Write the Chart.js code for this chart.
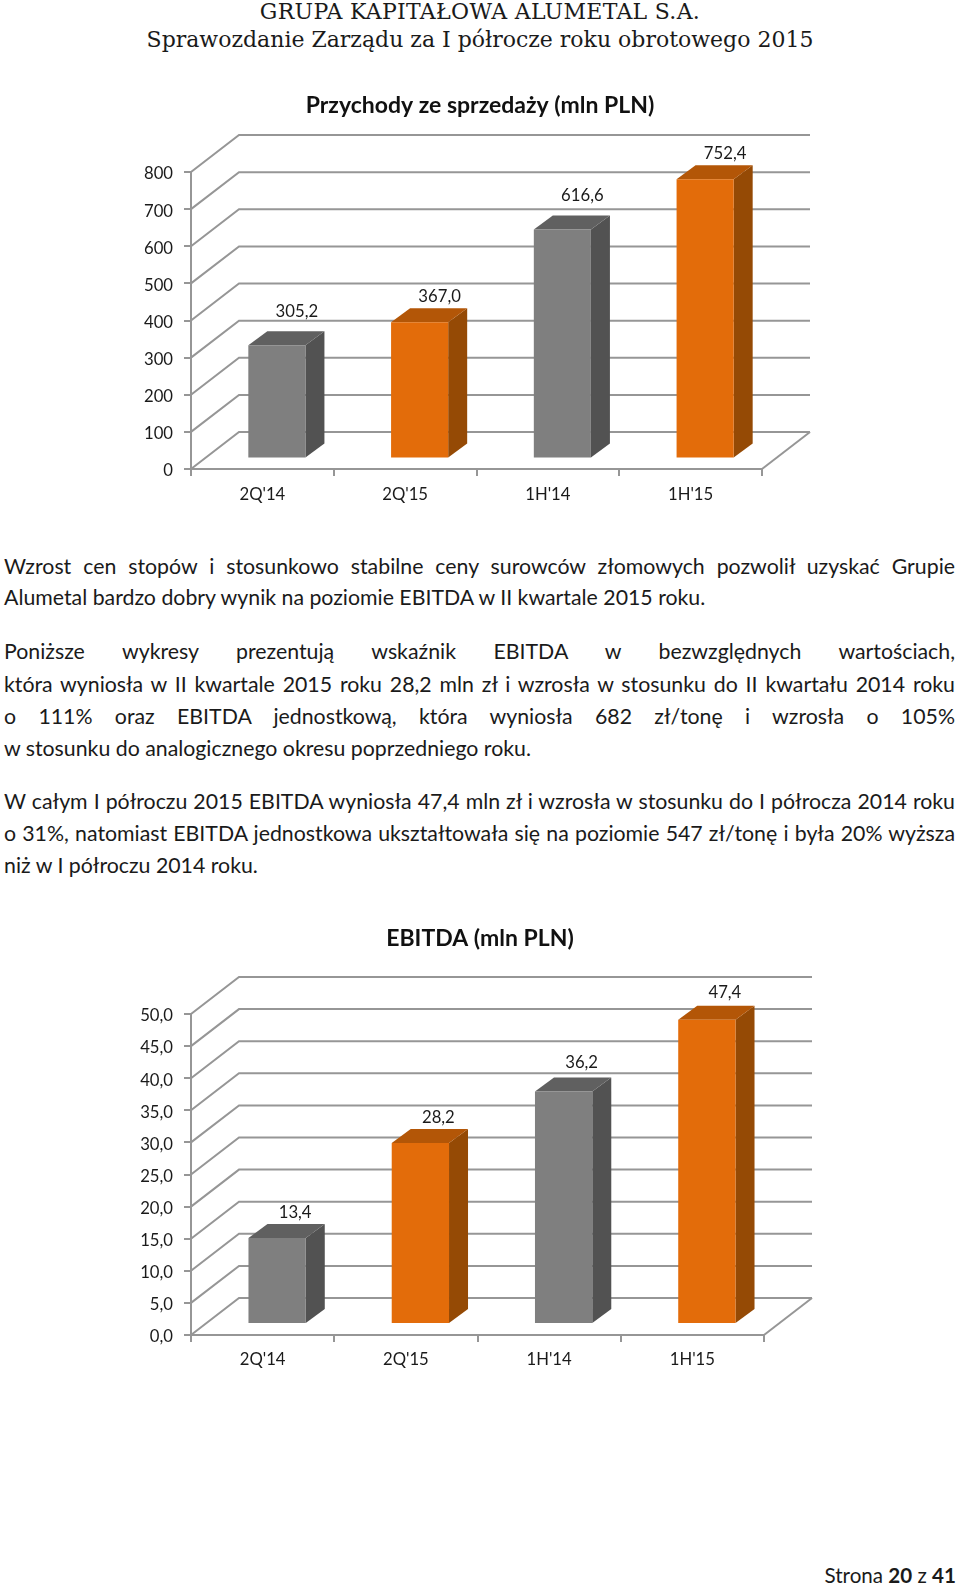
<!DOCTYPE html>
<html lang="pl">
<head>
<meta charset="utf-8">
<title>Sprawozdanie Zarządu</title>
<script src="https://cdn.jsdelivr.net/npm/chart.js@4"></script>
<style>
  html, body { margin: 0; padding: 0; background: #fff; width: 960px; height: 1585px; overflow: hidden; }
  canvas { position: absolute; left: 0; }
  .head { position: absolute; left: 0; width: 960px; text-align: center; font: 22px/28px "DejaVu Serif", serif; color: #1a1a1a; white-space: nowrap; }
  .line { position: absolute; left: 4px; width: 951px; font: 21.3px/30px Lato, sans-serif; color: #1a1a1a; white-space: nowrap; }
  .just { text-align: justify; text-align-last: justify; white-space: normal; }
  .foot { position: absolute; right: 4px; top: 1560px; font: 20.6px/30px Lato, sans-serif; color: #1a1a1a; }
</style>
</head>
<body>
<div class="head" style="top:-2px;letter-spacing:0.3px">GRUPA KAPITAŁOWA ALUMETAL S.A.</div>
<div class="head" style="top:26px">Sprawozdanie Zarządu za I półrocze roku obrotowego 2015</div>

<canvas id="revenue-chart" width="960" height="470" style="top:75px"></canvas>

<div class="line just" style="top:551px">Wzrost cen stopów i stosunkowo stabilne ceny surowców złomowych pozwolił uzyskać Grupie</div>
<div class="line" style="top:582px">Alumetal bardzo dobry wynik na poziomie EBITDA w II kwartale 2015 roku.</div>
<div class="line just" style="top:636px">Poniższe wykresy prezentują wskaźnik EBITDA w bezwzględnych wartościach,</div>
<div class="line just" style="top:669px">która wyniosła w II kwartale 2015 roku 28,2 mln zł i wzrosła w stosunku do II kwartału 2014 roku</div>
<div class="line just" style="top:701px">o 111% oraz EBITDA jednostkową, która wyniosła 682 zł/tonę i wzrosła o 105%</div>
<div class="line" style="top:733px">w stosunku do analogicznego okresu poprzedniego roku.</div>
<div class="line just" style="top:786px">W całym I półroczu 2015 EBITDA wyniosła 47,4 mln zł i wzrosła w stosunku do I półrocza 2014 roku</div>
<div class="line just" style="top:818px">o 31%, natomiast EBITDA jednostkowa ukształtowała się na poziomie 547 zł/tonę i była 20% wyższa</div>
<div class="line" style="top:850px">niż w I półroczu 2014 roku.</div>

<canvas id="ebitda-chart" width="960" height="470" style="top:910px"></canvas>

<div class="foot">Strona <b>20</b> z <b>41</b></div>

<script>
const categories = ["2Q'14", "2Q'15", "1H'14", "1H'15"];
const revenueValues = [305.2, 367.0, 616.6, 752.4];
const ebitdaValues = [13.4, 28.2, 36.2, 47.4];

const revenueLabelLift = [34, 26, 34, 26];
const ebitdaLabelLift = [25, 25, 29, 27];

const frontColors = ['#7f7f7f', '#e36c0a', '#7f7f7f', '#e36c0a'];
const sideColors = ['#525252', '#954a05', '#525252', '#954a05'];
const topColors = ['#606060', '#b35607', '#606060', '#b35607'];

const gridColor = '#969696';
const fontName = 'Lato, sans-serif';

// bars stand a bit inside the floor, so they get shifted from the axis plane
const box3d = {
  id: 'box3d',
  beforeDatasetsDraw(chart, args, opts) {
    const { ctx } = chart;
    const x = chart.scales.x;
    const y = chart.scales.y;
    ctx.save();
    ctx.strokeStyle = gridColor;
    ctx.lineWidth = 2;
    y.ticks.forEach(tick => {
      const py = y.getPixelForValue(tick.value);
      ctx.beginPath();
      ctx.moveTo(x.left, py);
      ctx.lineTo(x.left + opts.wallX, py - opts.wallY);
      ctx.lineTo(x.right + opts.wallX, py - opts.wallY);
      ctx.stroke();
    });
    const floor = y.getPixelForValue(0);
    ctx.beginPath();
    ctx.moveTo(x.right + opts.wallX, floor - opts.wallY);
    ctx.lineTo(x.right, floor);
    ctx.stroke();
    ctx.restore();
  },
  beforeDatasetDraw(chart, args, opts) {
    const { ctx } = chart;
    ctx.save();
    ctx.translate(opts.shiftX, -opts.shiftY);
    args.meta.data.forEach((bar, i) => {
      const left = bar.x - bar.width / 2;
      const right = bar.x + bar.width / 2;
      ctx.fillStyle = sideColors[i];
      ctx.beginPath();
      ctx.moveTo(right, bar.y);
      ctx.lineTo(right + opts.sideX, bar.y - opts.sideY);
      ctx.lineTo(right + opts.sideX, bar.base - opts.sideY);
      ctx.lineTo(right, bar.base);
      ctx.closePath();
      ctx.fill();
      ctx.fillStyle = topColors[i];
      ctx.beginPath();
      ctx.moveTo(left, bar.y);
      ctx.lineTo(left + opts.sideX, bar.y - opts.sideY);
      ctx.lineTo(right + opts.sideX, bar.y - opts.sideY);
      ctx.lineTo(right, bar.y);
      ctx.closePath();
      ctx.fill();
    });
  },
  afterDatasetDraw(chart) {
    chart.ctx.restore();
  },
  afterDatasetsDraw(chart, args, opts) {
    const { ctx } = chart;
    const meta = chart.getDatasetMeta(0);
    ctx.save();
    ctx.fillStyle = '#1a1a1a';
    ctx.font = '16.7px ' + fontName;
    ctx.textAlign = 'center';
    ctx.textBaseline = 'middle';
    meta.data.forEach((bar, i) => {
      const value = chart.data.datasets[0].data[i];
      ctx.fillText(value.toFixed(1).replace('.', ','), bar.x + opts.shiftX + opts.labelX, bar.y - opts.shiftY - opts.labelLift[i]);
    });
    ctx.restore();
  }
};

function drawChart(canvasId, config) {
  new Chart(document.getElementById(canvasId), {
    type: 'bar',
    data: {
      labels: categories,
      datasets: [{
        data: config.values,
        backgroundColor: frontColors,
        borderWidth: 0,
        barPercentage: 1,
        categoryPercentage: 0.4,
        clip: false
      }]
    },
    options: {
      responsive: false,
      animation: false,
      events: [],
      layout: { autoPadding: false, padding: 0 },
      plugins: {
        legend: { display: false },
        tooltip: { enabled: false },
        title: {
          display: true,
          text: config.title,
          color: '#111',
          font: { family: fontName, size: 23, weight: 'bold', lineHeight: 1.2 },
          padding: { top: config.titleTop, bottom: config.titleBottom }
        },
        box3d: {
          wallX: 48, wallY: 37,
          sideX: 19, sideY: 14,
          shiftX: 14.5, shiftY: config.shiftY,
          labelX: config.labelX,
          labelLift: config.labelLift
        }
      },
      scales: {
        x: {
          afterFit(scale) { scale.height = config.axisHeight; },
          border: { color: gridColor, width: 2 },
          grid: { drawOnChartArea: false, color: gridColor, lineWidth: 2, tickLength: 7 },
          ticks: { color: '#1a1a1a', font: { family: fontName, size: 16.7 }, padding: config.xPadding, maxRotation: 0 }
        },
        y: {
          min: 0,
          max: config.max,
          afterFit(scale) { scale.width = 191; },
          border: { color: gridColor, width: 2 },
          grid: { drawOnChartArea: false, color: gridColor, lineWidth: 2, tickLength: 7 },
          ticks: {
            stepSize: config.step,
            color: '#1a1a1a',
            font: { family: fontName, size: 16.7 },
            padding: 11,
            labelOffset: 2,
            callback: config.tickFormat
          }
        },
        // empty axis: keeps room for the 3D wall and leaves the title centred on the page
        spacer: {
          type: 'linear',
          position: 'right',
          afterFit(scale) { scale.width = config.right; },
          border: { display: false },
          grid: { display: false },
          ticks: { display: false }
        }
      }
    },
    plugins: [box3d]
  });
}

drawChart('revenue-chart', {
  values: revenueValues,
  title: 'Przychody ze sprzedaży (mln PLN)',
  titleTop: 16.4,
  titleBottom: 53,
  axisHeight: 76,
  xPadding: 9,
  right: 198,
  max: 800,
  step: 100,
  shiftY: 10.5,
  labelX: 20,
  labelLift: revenueLabelLift,
  tickFormat: v => String(v)
});

drawChart('ebitda-chart', {
  values: ebitdaValues,
  title: 'EBITDA (mln PLN)',
  titleTop: 14.4,
  titleBottom: 62,
  axisHeight: 45,
  xPadding: 8,
  right: 196,
  max: 50,
  step: 5,
  shiftY: 11,
  labelX: 18,
  labelLift: ebitdaLabelLift,
  tickFormat: v => v.toFixed(1).replace('.', ',')
});
</script>
</body>
</html>
